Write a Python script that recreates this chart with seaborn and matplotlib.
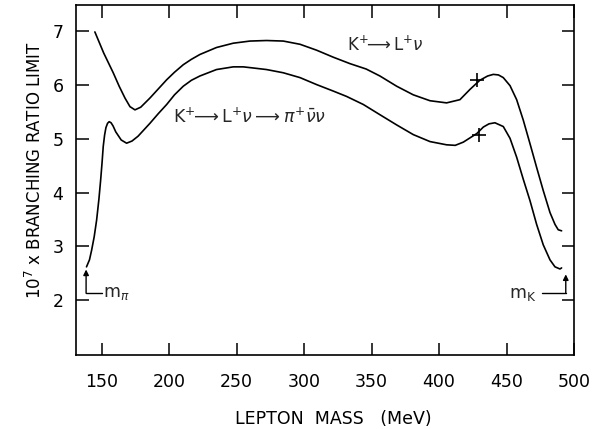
import numpy as np
import pandas as pd
import seaborn as sns

import matplotlib
matplotlib.use('Agg')
import matplotlib.pyplot as plt

# 读图得到的数据 (MeV, 10^7 x branching ratio)
upper_x = [145.0, 151.5, 158.6, 163.0, 167.3, 171.0, 174.7, 179.0, 185.8, 192.0,
           198.2, 204.0, 210.5, 216.5, 222.8, 235.1, 247.5, 259.9, 272.2, 284.6,
           297.0, 309.3, 321.6, 334.0, 346.0, 356.2, 368.6, 380.9, 393.3, 405.6,
           415.5, 422.9, 430.2, 436.0, 440.2, 444.0, 447.6, 452.6, 457.5, 462.4,
           467.4, 472.3, 477.2, 482.2, 485.9, 488.3, 490.8]
upper_y = [6.99, 6.60, 6.23, 5.98, 5.76, 5.60, 5.54, 5.59, 5.76, 5.93,
           6.10, 6.24, 6.38, 6.48, 6.57, 6.70, 6.78, 6.82, 6.83, 6.82,
           6.76, 6.65, 6.52, 6.40, 6.30, 6.17, 5.98, 5.82, 5.71, 5.67,
           5.73, 5.92, 6.09, 6.17, 6.20, 6.19, 6.14, 5.99, 5.73, 5.35,
           4.91, 4.47, 4.04, 3.63, 3.41, 3.31, 3.29]

lower_x = [138.8, 141.0, 142.6, 144.5, 146.3, 148.0, 149.3, 150.3, 151.2, 152.2,
           153.2, 154.4, 155.6, 157.0, 158.5, 160.5, 164.5, 168.5, 172.5, 177.0,
           185.8, 192.0, 198.2, 204.0, 210.5, 216.5, 222.8, 235.1, 247.5, 255.0,
           262.0, 272.2, 284.6, 297.0, 309.3, 321.6, 331.5, 343.9, 356.2, 368.6,
           380.9, 393.3, 405.6, 412.0, 418.0, 423.0, 428.0, 432.8, 437.0, 441.4,
           447.6, 452.6, 457.5, 462.4, 467.4, 472.3, 477.2, 482.2, 485.9, 489.6,
           490.8]
lower_y = [2.62, 2.75, 2.93, 3.18, 3.49, 3.88, 4.24, 4.55, 4.86, 5.07,
           5.21, 5.29, 5.32, 5.30, 5.24, 5.13, 4.98, 4.92, 4.96, 5.05,
           5.29, 5.47, 5.64, 5.82, 5.98, 6.09, 6.17, 6.29, 6.34, 6.34,
           6.32, 6.29, 6.23, 6.14, 6.01, 5.89, 5.79, 5.64, 5.45, 5.26,
           5.08, 4.95, 4.89, 4.88, 4.94, 5.02, 5.10, 5.22, 5.28, 5.30,
           5.23, 5.01, 4.66, 4.25, 3.85, 3.41, 3.03, 2.75, 2.62, 2.58,
           2.60]

cross_x = [428.0, 429.5]
cross_y = [6.10, 5.08]

m_K = 493.9

x_ticks = [150, 200, 250, 300, 350, 400, 450, 500]
y_ticks = [2, 3, 4, 5, 6, 7]

sns.set_theme(style="ticks")
plt.rcParams['font.family'] = ['DejaVu Sans']
plt.rcParams['mathtext.fontset'] = 'dejavusans'

fig = plt.figure(figsize=(6.02, 4.29), dpi=100)
ax = fig.add_axes([0.1262, 0.1725, 0.8273, 0.817])

sns.lineplot(x=upper_x, y=upper_y, sort=False, estimator=None,
             color='black', linewidth=1.2, ax=ax)
sns.lineplot(x=lower_x, y=lower_y, sort=False, estimator=None,
             color='black', linewidth=1.2, ax=ax)
sns.scatterplot(x=cross_x, y=cross_y, marker='+', s=110, color='black',
                linewidth=1.2, ax=ax, zorder=5)

ax.set_xlim(131, 500)
ax.set_ylim(0.98, 7.5)
ax.set_xticks(x_ticks)
ax.set_yticks(y_ticks)

for s in ax.spines.values():
    s.set_color('black')
    s.set_linewidth(1.2)
ax.tick_params(direction='in', length=9, width=1.1, top=True, right=True,
               colors='black', labelsize=12.5)
ax.tick_params(axis='x', pad=13)
ax.tick_params(axis='y', pad=9)

ax.set_xlabel("LEPTON  MASS   (MeV)", fontsize=12.5, color='black')
ax.xaxis.set_label_coords(0.516, -0.158)
ax.set_ylabel(r"10$^7$ x BRANCHING RATIO LIMIT", fontsize=12, color='black')
ax.yaxis.set_label_coords(-0.062, 0.528)

# 曲线标注
ax.text(331.5, 6.74, r"K$^{+}\!\!\longrightarrow$L$^{+}\nu$",
        fontsize=12, ha='left', va='center')
ax.text(203.1, 5.40, r"K$^{+}\!\!\longrightarrow$L$^{+}\nu\longrightarrow\pi^{+}\bar{\nu}\nu$",
        fontsize=12.5, ha='left', va='center')

# m_pi 和 m_K 箭头
arrow = dict(arrowstyle='-|>', color='black', lw=1.0, mutation_scale=8,
             shrinkA=0, shrinkB=0)
ax.annotate('', xy=(lower_x[0] - 0.3, 2.57), xytext=(lower_x[0] - 0.3, 2.13),
            arrowprops=arrow)
ax.plot([lower_x[0] - 0.3, 150], [2.13, 2.13], color='black', lw=1.0)
ax.text(151, 2.14, r"m$_{\pi}$", fontsize=12.5, ha='left', va='center')

ax.annotate('', xy=(m_K, 2.48), xytext=(m_K, 2.13), arrowprops=arrow)
ax.plot([476.5, m_K], [2.13, 2.13], color='black', lw=1.0)
ax.text(472, 2.12, r"m$_{\mathrm{K}}$", fontsize=12.5, ha='right', va='center')

plt.savefig('out.png', dpi=100)
plt.close()
